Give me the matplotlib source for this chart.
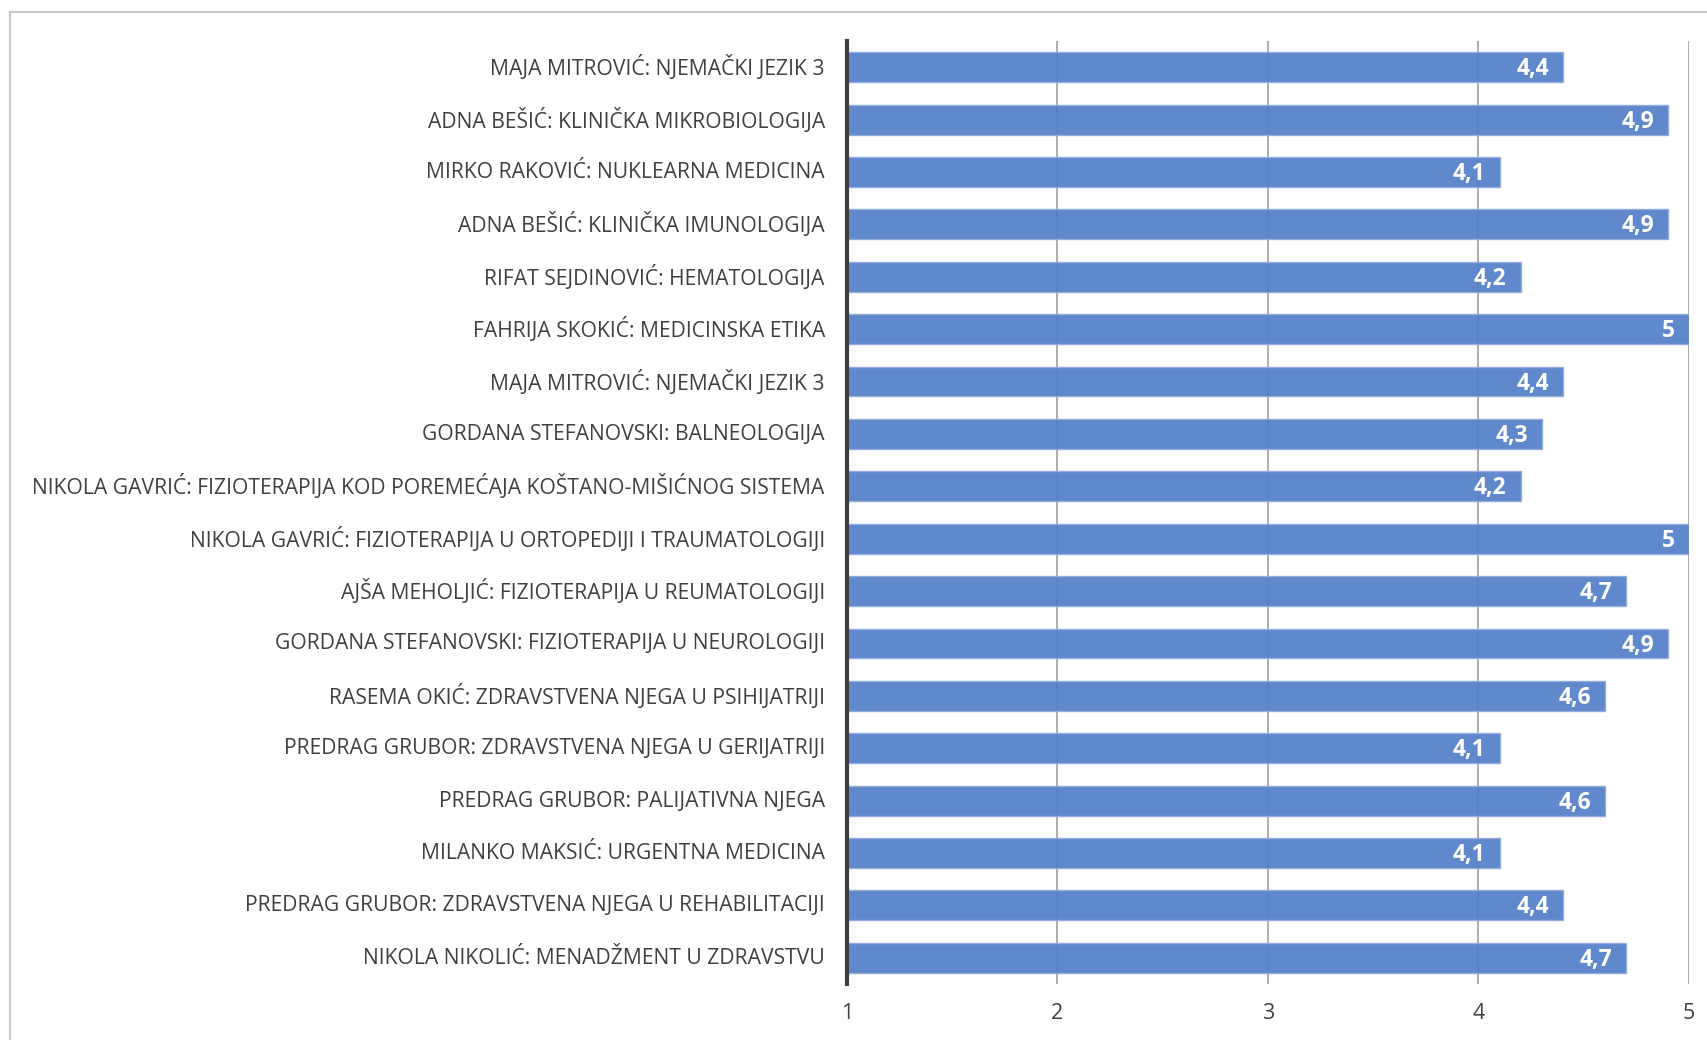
import matplotlib.pyplot as plt
import matplotlib.patches as patches
import matplotlib.transforms as mtransforms

# course ratings, top to bottom as in the chart
labels = [
    "MAJA MITROVIĆ: NJEMAČKI JEZIK 3",
    "ADNA BEŠIĆ: KLINIČKA MIKROBIOLOGIJA",
    "MIRKO RAKOVIĆ: NUKLEARNA MEDICINA",
    "ADNA BEŠIĆ: KLINIČKA IMUNOLOGIJA",
    "RIFAT SEJDINOVIĆ: HEMATOLOGIJA",
    "FAHRIJA SKOKIĆ: MEDICINSKA ETIKA",
    "MAJA MITROVIĆ: NJEMAČKI JEZIK 3",
    "GORDANA STEFANOVSKI: BALNEOLOGIJA",
    "NIKOLA GAVRIĆ: FIZIOTERAPIJA KOD POREMEĆAJA KOŠTANO-MIŠIĆNOG SISTEMA",
    "NIKOLA GAVRIĆ: FIZIOTERAPIJA U ORTOPEDIJI I TRAUMATOLOGIJI",
    "AJŠA MEHOLJIĆ: FIZIOTERAPIJA U REUMATOLOGIJI",
    "GORDANA STEFANOVSKI: FIZIOTERAPIJA U NEUROLOGIJI",
    "RASEMA OKIĆ: ZDRAVSTVENA NJEGA U PSIHIJATRIJI",
    "PREDRAG GRUBOR: ZDRAVSTVENA NJEGA U GERIJATRIJI",
    "PREDRAG GRUBOR: PALIJATIVNA NJEGA",
    "MILANKO MAKSIĆ: URGENTNA MEDICINA",
    "PREDRAG GRUBOR: ZDRAVSTVENA NJEGA U REHABILITACIJI",
    "NIKOLA NIKOLIĆ: MENADŽMENT U ZDRAVSTVU",
]
values = [4.4, 4.9, 4.1, 4.9, 4.2, 5, 4.4, 4.3, 4.2, 5, 4.7, 4.9, 4.6, 4.1, 4.6, 4.1, 4.4, 4.7]
xticks = [1, 2, 3, 4, 5]

plt.rcParams['font.family'] = ['Open Sans', 'DejaVu Sans']

fig = plt.figure(figsize=(17.08, 10.4), dpi=100)
ax = fig.add_axes([847/1708, 1-984/1040, (1689-847)/1708, (984-41)/1040])

# light frame around the chart area (cut off on the right and bottom)
frame = patches.Rectangle((10/1708, -0.1), 1.1, 1.1 - 12/1040, transform=fig.transFigure,
                          fill=False, edgecolor='#c9c9c9', linewidth=1.5)
fig.patches.append(frame)

ypos = list(range(len(values)))
ax.barh(ypos, values, height=0.57, color='#547fc8', alpha=0.93,
        edgecolor='#8fabdc', linewidth=1, zorder=2)

for y, v in zip(ypos, values):
    txt = f"{v:g}".replace('.', ',')
    ax.annotate(txt, (v, y), xytext=(-10, -1.5), textcoords='offset points',
                ha='right', va='center', color='white', fontsize=16.5,
                fontweight='bold', zorder=4)

ax.set_xlim(1, 5)
ax.set_ylim(len(values) - 0.5, -0.5)
ax.set_xticks(xticks)
ax.set_xticklabels([str(t) for t in xticks])
ax.set_yticks(ypos)
ax.set_yticklabels(labels)

ax.grid(axis='x', color='#a6a6a6', linewidth=1.3, zorder=1)
ax.set_axisbelow(True)
ax.tick_params(axis='x', length=0, pad=14, labelsize=15.5, labelcolor='#404040')
ax.tick_params(axis='y', length=0, pad=16, labelsize=15.2, labelcolor='#404040')

# nudge category labels up a touch
shift = mtransforms.ScaledTranslation(0, 2/100, fig.dpi_scale_trans)
for t in ax.get_yticklabels():
    t.set_transform(t.get_transform() + shift)

for s in ['top', 'right', 'bottom']:
    ax.spines[s].set_visible(False)
ax.spines['left'].set_color('#404040')
ax.spines['left'].set_linewidth(3)
ax.spines['left'].set_zorder(5)

fig.savefig('out.png', dpi=100)
